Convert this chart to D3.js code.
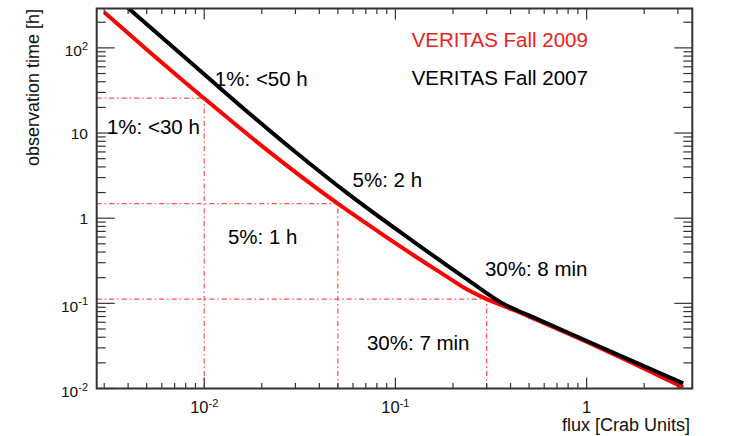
<!DOCTYPE html>
<html><head><meta charset="utf-8">
<script src="https://cdn.jsdelivr.net/npm/d3@7"></script>
<style>
body{margin:0;background:#fff}
svg{display:block}
text{font-family:"Liberation Sans",Arial,Helvetica,sans-serif}
</style>
</head><body><svg id="c" width="747" height="436"></svg>
<script>
// ---- data ----
const seriesNames = ["VERITAS Fall 2009", "VERITAS Fall 2007"];
const fluxRed  = [0.0030, 0.0050, 0.0100, 0.0200, 0.0500, 0.0828, 0.1238, 0.185, 0.230, 0.300, 0.412, 0.500, 0.92, 1.68, 3.20];
const timeRed  = [262, 96, 25.5, 7.07, 1.48, 0.677, 0.370, 0.207, 0.151, 0.112, 0.0841, 0.0700, 0.0385, 0.0206, 0.0103];
const fluxBlack = [0.0036, 0.0100, 0.01652, 0.0300, 0.0578, 0.1238, 0.235, 0.381, 0.500, 0.92, 1.68, 3.20];
const timeBlack = [361, 49, 18.4, 5.99, 1.865, 0.535, 0.194, 0.0941, 0.0721, 0.0394, 0.0217, 0.0115];
const cutFlux = [0.01, 0.05, 0.3];
const cutTime = [25.7, 1.48, 0.112];
const xMajor = [0.01, 0.1, 1];
const xMajorExp = ["-2", "-1", null];
const yMajor = [0.01, 0.1, 1, 10, 100];
const yMajorExp = ["-2", "-1", null, null, "2"];
const annText = ["1%: <30 h", "1%: <50 h", "5%: 2 h", "5%: 1 h", "30%: 8 min", "30%: 7 min"];
const annFlux = [0.0031, 0.01137, 0.0597, 0.0133, 0.294, 0.0710];
const annTime = [9.74, 35.7, 2.34, 0.498, 0.2096, 0.02833];
const legendFlux = [0.1216, 0.1216];
const legendTime = [103.2, 36.6];
const xTitle = "flux [Crab Units]";
const yTitle = "observation time [h]";

// ---- layout ----
const L = 96.7, R = 692.3, T = 8.5, B = 388.5;
const x = d3.scaleLog().domain([0.00274, 3.57]).range([L, R]);
const y = d3.scaleLog().domain([0.01, 290]).range([B, T]);
const svg = d3.select("#c");
const RED = "#ff0000", RED_TXT = "#e8231d";

svg.append("defs").append("clipPath").attr("id", "clip")
  .append("rect").attr("x", L).attr("y", T).attr("width", R - L).attr("height", B - T);

// minor tick values
const xMinor = [];
[0.001, 0.01, 0.1, 1].forEach(d => { for (let k = 2; k <= 9; k++) { const v = d * k; if (v >= 0.00274 && v <= 3.57) xMinor.push(v); } });
const yMinor = [];
[0.01, 0.1, 1, 10, 100].forEach(d => { for (let k = 2; k <= 9; k++) { const v = d * k; if (v <= 290) yMinor.push(v); } });

// dashed guide lines
const gGuide = svg.append("g").attr("stroke", "#ff3b3b").attr("stroke-width", 1.2)
  .attr("fill", "none").attr("stroke-dasharray", "5,3,1.5,3").attr("opacity", 0.9);
cutFlux.forEach((f, i) => {
  gGuide.append("line").attr("x1", L).attr("x2", x(f)).attr("y1", y(cutTime[i])).attr("y2", y(cutTime[i]));
  gGuide.append("line").attr("x1", x(f)).attr("x2", x(f)).attr("y1", B).attr("y2", y(cutTime[i]));
});

// curves
const line = d3.line().x(d => x(d[0])).y(d => y(d[1])).curve(d3.curveMonotoneX);
const gC = svg.append("g").attr("clip-path", "url(#clip)");
gC.append("path").datum(fluxRed.map((f, i) => [f, timeRed[i]]))
  .attr("d", line).attr("fill", "none").attr("stroke", RED).attr("stroke-width", 4);
gC.append("path").datum(fluxBlack.map((f, i) => [f, timeBlack[i]]))
  .attr("d", line).attr("fill", "none").attr("stroke", "#000").attr("stroke-width", 4);

// axes ticks (ROOT style, all four sides)
const gT = svg.append("g").attr("stroke", "#333").attr("stroke-width", 1.2);
const xMajLen = 11, xMinLen = 5.5, yMajLen = 18, yMinLen = 9;
xMajor.forEach(v => {
  gT.append("line").attr("x1", x(v)).attr("x2", x(v)).attr("y1", B).attr("y2", B - xMajLen);
  gT.append("line").attr("x1", x(v)).attr("x2", x(v)).attr("y1", T).attr("y2", T + xMajLen);
});
xMinor.forEach(v => {
  gT.append("line").attr("x1", x(v)).attr("x2", x(v)).attr("y1", B).attr("y2", B - xMinLen);
  gT.append("line").attr("x1", x(v)).attr("x2", x(v)).attr("y1", T).attr("y2", T + xMinLen);
});
yMajor.forEach(v => {
  gT.append("line").attr("x1", L).attr("x2", L + yMajLen).attr("y1", y(v)).attr("y2", y(v));
  gT.append("line").attr("x1", R).attr("x2", R - yMajLen).attr("y1", y(v)).attr("y2", y(v));
});
yMinor.forEach(v => {
  gT.append("line").attr("x1", L).attr("x2", L + yMinLen).attr("y1", y(v)).attr("y2", y(v));
  gT.append("line").attr("x1", R).attr("x2", R - yMinLen).attr("y1", y(v)).attr("y2", y(v));
});

// frame
svg.append("rect").attr("x", L).attr("y", T).attr("width", R - L).attr("height", B - T)
  .attr("fill", "none").attr("stroke", "#333").attr("stroke-width", 2);

// tick labels
function expLabel(g, base, exp) {
  g.append("tspan").text(base);
  if (exp) g.append("tspan").attr("font-size", 11).attr("dy", -6.5).text(exp);
}
xMajor.forEach((v, i) => {
  const t = svg.append("text").attr("x", x(v)).attr("y", 413)
    .attr("text-anchor", "middle").attr("font-size", 16.5).attr("fill", "#111");
  expLabel(t, xMajorExp[i] ? "10" : String(v), xMajorExp[i]);
});
yMajor.forEach((v, i) => {
  const t = svg.append("text").attr("x", 88).attr("y", y(v) + (yMajorExp[i] ? 8.5 : 6))
    .attr("text-anchor", "end").attr("font-size", 15.5).attr("fill", "#111");
  expLabel(t, yMajorExp[i] ? "10" : String(v), yMajorExp[i]);
});

// axis titles
svg.append("text").attr("x", 690).attr("y", 430.5).attr("text-anchor", "end")
  .attr("font-size", 18).attr("fill", "#111").text(xTitle);
svg.append("text").attr("transform", "translate(38.5,9) rotate(-90)").attr("text-anchor", "end")
  .attr("font-size", 18).attr("fill", "#111").text(yTitle);

// legend
seriesNames.forEach((s, i) => {
  svg.append("text").attr("x", x(legendFlux[i])).attr("y", y(legendTime[i]))
    .attr("font-size", 20.5).attr("fill", i === 0 ? RED_TXT : "#000").text(s);
});

// annotations
annText.forEach((s, i) => {
  svg.append("text").attr("x", x(annFlux[i])).attr("y", y(annTime[i]))
    .attr("font-size", 20.5).attr("fill", "#000").text(s);
});
</script></body></html>
